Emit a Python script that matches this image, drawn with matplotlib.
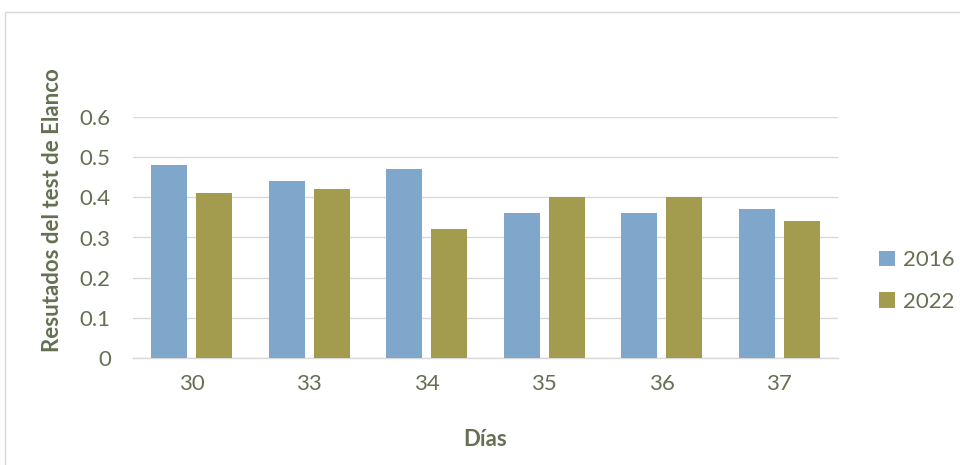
import matplotlib
matplotlib.use("Agg")
import matplotlib.pyplot as plt
import numpy as np
from matplotlib.patches import Rectangle

categories = ["30", "33", "34", "35", "36", "37"]
series_names = ["2016", "2022"]
values_2016 = [0.48, 0.44, 0.47, 0.36, 0.36, 0.37]
values_2022 = [0.41, 0.42, 0.32, 0.40, 0.40, 0.34]
yticks = [0, 0.1, 0.2, 0.3, 0.4, 0.5, 0.6]
ytick_labels = ["0", "0.1", "0.2", "0.3", "0.4", "0.5", "0.6"]

c2016 = "#7EA7CB"
c2022 = "#A39B4D"
txt = "#657052"
grid = "#D9D9D9"

plt.rcParams['font.family'] = ['Lato', 'DejaVu Sans']

fig = plt.figure(figsize=(9.6, 4.65), dpi=100)
fig.patches.append(Rectangle((5/960, -0.01), 1.0, 1 - 12/465 + 0.01, transform=fig.transFigure,
                             fill=False, edgecolor="#D9D9D9", linewidth=1.0))
ax = fig.add_axes([133/960, 1 - 358/465, (838 - 133)/960, (358 - 117)/465])

x = np.arange(len(categories))
w = 0.306
off = 0.19
ax.bar(x - off, values_2016, width=w, color=c2016, label=series_names[0], zorder=3)
ax.bar(x + off, values_2022, width=w, color=c2022, label=series_names[1], zorder=3)

ax.set_xlim(-0.5, len(categories) - 0.5)
ax.set_ylim(0, 0.6)
ax.set_yticks(yticks)
ax.set_yticklabels(ytick_labels)
ax.set_xticks(x)
ax.set_xticklabels(categories)
ax.yaxis.grid(True, color=grid, linewidth=1.0, zorder=0)
ax.set_axisbelow(True)
for s in ["top", "right", "left"]:
    ax.spines[s].set_visible(False)
ax.spines["bottom"].set_color(grid)
ax.spines["bottom"].set_linewidth(1.0)
ax.tick_params(axis="both", length=0, labelsize=16, colors=txt)
ax.tick_params(axis="x", pad=11.5)
ax.tick_params(axis="y", pad=16)

ax.set_xlabel("Días", fontsize=16, fontweight="bold", color=txt, labelpad=25.5)
ax.set_ylabel("Resutados del test de Elanco", fontsize=16, fontweight="bold", color=txt)
ax.yaxis.set_label_coords((63 - 133) / 705, (358 - 210) / 241)

leg = fig.legend(loc="center left", bbox_to_anchor=(879/960, 1 - 281/465), frameon=False,
                 fontsize=16, labelcolor=txt, handlelength=0.7, handleheight=0.7,
                 labelspacing=0.95, handletextpad=0.4, borderaxespad=0, borderpad=0)

fig.savefig("out.png", dpi=100)
